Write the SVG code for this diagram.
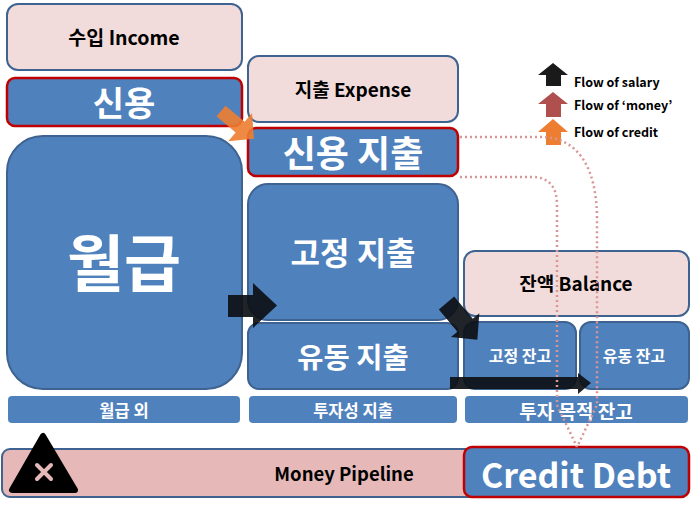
<svg xmlns="http://www.w3.org/2000/svg" width="700" height="507" viewBox="0 0 700 507">
<style>
text{font-family:"Noto Sans CJK KR","Noto Sans",sans-serif;font-weight:bold;text-anchor:middle;dominant-baseline:central}
.pink{fill:#f2dcdb;stroke:#3f6391;stroke-width:2}
.blue{fill:#4f81bd;stroke:#3f6391;stroke-width:2}
.cred{fill:#4f81bd;stroke:#c00000;stroke-width:2.5}
.lab{fill:#4f81bd}
.dk{fill:#000}
.wt{fill:#fff}
.leg{font-size:12.5px;text-anchor:start;fill:#000}
.sal{fill:#0d1015;opacity:0.92}
.dot{fill:none;stroke:#d99694;stroke-width:2.5;stroke-dasharray:2 3}
</style>
<rect width="700" height="507" fill="#fff"/>
<g id="pipeline">
<rect x="2" y="449" width="475" height="48" rx="8" fill="#e6b9b8" stroke="#3f6391" stroke-width="2"/>
<text x="344" y="473" class="dk" font-size="18.5">Money Pipeline</text>
<polygon points="43,436 12,490 75,490" fill="#000" stroke="#000" stroke-width="6" stroke-linejoin="round"/>
<path d="M37,465 L51,479 M51,465 L37,479" stroke="#e6b9b8" stroke-width="4" stroke-linecap="round"/>
</g>
<g id="income"><rect x="7" y="4" width="235" height="66" rx="11" class="pink"/><text x="124" y="36.5" class="dk" font-size="19.5">수입 Income</text></g>
<g id="credit"><rect x="7" y="78" width="235" height="48" rx="8" class="cred"/><text x="124" y="101" class="wt" font-size="34">신용</text></g>
<g id="salary"><rect x="7" y="136" width="235" height="253" rx="36" class="blue"/><text x="124" y="260" class="wt" font-size="62">월급</text></g>
<g id="expense"><rect x="248" y="56" width="210" height="66" rx="11" class="pink"/><text x="353" y="88.5" class="dk" font-size="19">지출 Expense</text></g>
<g id="credit-expense"><rect x="248" y="128" width="210" height="48" rx="8" class="cred"/><text x="353" y="151" class="wt" font-size="36">신용 지출</text></g>
<g id="fixed-expense"><rect x="248" y="184" width="210" height="136" rx="20" class="blue"/><text x="353" y="251" class="wt" font-size="32">고정 지출</text></g>
<g id="variable-expense"><rect x="248" y="323" width="210" height="66" rx="11" class="blue"/><text x="353" y="355" class="wt" font-size="28.5">유동 지출</text></g>
<g id="balance"><rect x="464" y="251" width="225" height="65" rx="11" class="pink"/><text x="576" y="282.5" class="dk" font-size="19">잔액 Balance</text></g>
<g id="fixed-balance"><rect x="464" y="322" width="112" height="67" rx="11" class="blue"/><text x="520" y="355" class="wt" font-size="16">고정 잔고</text></g>
<g id="variable-balance"><rect x="580" y="322" width="109" height="67" rx="11" class="blue"/><text x="634" y="355" class="wt" font-size="16">유동 잔고</text></g>
<g id="label-non-salary"><rect x="8" y="396" width="232" height="27" rx="4" class="lab"/><text x="124" y="410" class="wt" font-size="16.5">월급 외</text></g>
<g id="label-invest-expense"><rect x="249" y="396" width="208" height="27" rx="4" class="lab"/><text x="353" y="410" class="wt" font-size="16.5">투자성 지출</text></g>
<g id="label-invest-balance"><rect x="465" y="396" width="223" height="27" rx="4" class="lab"/><text x="576" y="410" class="wt" font-size="19">투자 목적 잔고</text></g>
<g id="credit-debt"><rect x="464" y="447" width="225" height="50" rx="8" class="cred"/><text x="576" y="473" class="wt" font-size="34">Credit Debt</text></g>
<g id="legend">
<polygon points="553,63 568,75 561,75 561,86 546,86 546,75 538,75" fill="#1a1a1a"/>
<polygon points="553,92 568,104 561,104 561,117 546,117 546,104 538,104" fill="#b0504e"/>
<polygon points="553,119 568,132 561,132 561,145 546,145 546,132 538,132" fill="#ed7d31"/>
<text x="574" y="81" class="leg">Flow of salary</text>
<text x="574" y="104" class="leg">Flow of ‘money’</text>
<text x="574" y="131" class="leg">Flow of credit</text>
</g>
<g id="connectors">
<polygon class="sal" points="228,295 253,295 253,283 277,305.5 253,328 253,317 228,317"/>
<polygon class="sal" transform="translate(446.5,303) rotate(50)" points="0,-10 29,-10 29,-18.5 48,0 29,18.5 29,10 0,10"/>
<polygon class="sal" points="450,377 578,377 578,373 591,383 578,394 578,389 450,389"/>
<polygon fill="#ed7d31" opacity="0.9" transform="translate(221,111) rotate(40)" points="0,-7 25,-7 25,-18.5 43,0 25,18.5 25,7 0,7"/>
<path class="dot" d="M460,137 H540 C580,137 597,170 597,220 V405 L577,447"/>
<path class="dot" d="M460,177 H532 C550,177 557,188 557,205 V405 L577,447"/>
</g>
</svg>
